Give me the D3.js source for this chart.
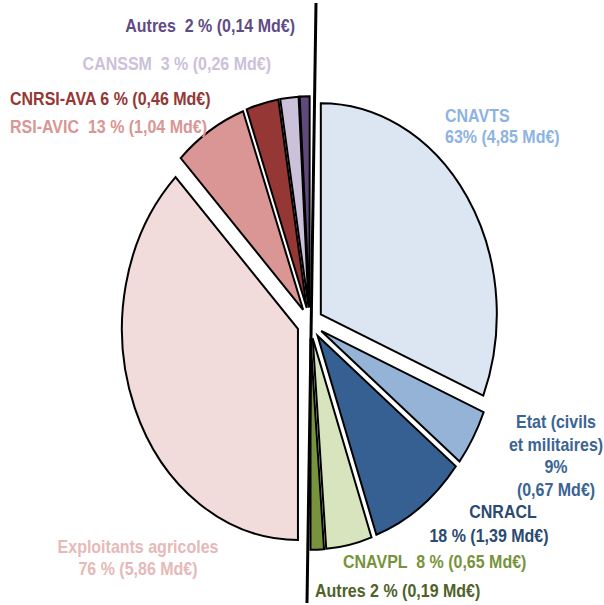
<!DOCTYPE html>
<html>
<head>
<meta charset="utf-8">
<script src="https://cdn.jsdelivr.net/npm/d3@7"></script>
<style>
  body { margin: 0; background: #fff; }
  svg { display: block; }
  text { font-family: "Liberation Sans", Arial, sans-serif; font-weight: bold; font-size: 16px; }
</style>
</head>
<body>
<svg id="chart" width="604" height="605"></svg>
<script>
// Right half: régimes de salariés etc. (Md€)
const rightNames = ["CNAVTS", "Etat (civils et militaires)", "CNRACL", "CNAVPL", "Autres"];
const rightValues = [4.85, 0.67, 1.39, 0.65, 0.19];
const rightColors = ["#dce6f2", "#95b3d7", "#376092", "#d7e4bd", "#77933c"];

// Left half: non-salariés agricoles (Md€)
const leftNames = ["Exploitants agricoles", "RSI-AVIC", "CNRSI-AVA", "CANSSM", "Autres"];
const leftValues = [5.86, 1.04, 0.46, 0.26, 0.14];
const leftColors = ["#f2dcdb", "#d99694", "#953735", "#ccc1da", "#604a7b"];

// Label texts
const labelLines = [
  ["Autres  2 % (0,14 Md€)"],
  ["CANSSM  3 % (0,26 Md€)"],
  ["CNRSI-AVA 6 % (0,46 Md€)"],
  ["RSI-AVIC  13 % (1,04 Md€)"],
  ["CNAVTS", "63% (4,85 Md€)"],
  ["Etat (civils", "et militaires)", "9%", "(0,67 Md€)"],
  ["CNRACL", "18 % (1,39 Md€)"],
  ["CNAVPL  8 % (0,65 Md€)"],
  ["Autres 2 % (0,19 Md€)"],
  ["Exploitants agricoles", "76 % (5,86 Md€)"]
];

const svg = d3.select('#chart');
const cx = 310, cy = 323;
const radius = 176;
const squash = 1.2;     // pie is drawn stretched vertically
const explode = 13;

const arc = d3.arc().innerRadius(0).outerRadius(radius);

function drawHalf(values, colors, start, end) {
    const pie = d3.pie().sort(null).value(d => d)
        .startAngle(start).endAngle(end);
    const g = svg.append('g')
        .attr('transform', `translate(${cx},${cy}) scale(1,${squash})`);
    g.selectAll('path')
        .data(pie(values))
        .join('path')
        .attr('transform', d => {
            const a = (d.startAngle + d.endAngle) / 2;
            return `translate(${explode * Math.sin(a)},${-explode * Math.cos(a)})`;
        })
        .attr('d', arc)
        .attr('fill', (d, i) => colors[i])
        .attr('stroke', '#000')
        .attr('stroke-width', 2)
        .attr('vector-effect', 'non-scaling-stroke')
        .attr('stroke-linejoin', 'miter');
}

drawHalf(rightValues, rightColors, 0, Math.PI);
drawHalf(leftValues, leftColors, Math.PI, 2 * Math.PI);

// separator line
svg.append('line')
    .attr('x1', 316).attr('y1', 3)
    .attr('x2', 307).attr('y2', 603)
    .attr('stroke', '#000')
    .attr('stroke-width', 3);

// label placement: x, first baseline, line step, anchor, colour
const labelLayout = [
    {x: 295, y: 32, step: 0, anchor: 'end', color: '#5f4b85'},
    {x: 271, y: 70, step: 0, anchor: 'end', color: '#ccc1da'},
    {x: 10, y: 105, step: 0, anchor: 'start', color: '#953735'},
    {x: 10, y: 133, step: 0, anchor: 'start', color: '#d99694'},
    {x: 445, y: 122, step: 21, anchor: 'start', color: '#8db3e2'},
    {x: 556, y: 428, step: 22.5, anchor: 'middle', color: '#3a6494'},
    {x: 496, y: 518, step: 24, anchor: 'middle', color: '#2b4a70'},
    {x: 343, y: 568, step: 0, anchor: 'start', color: '#77933c'},
    {x: 315, y: 597, step: 0, anchor: 'start', color: '#4f6228'},
    {x: 138, y: 553, step: 22, anchor: 'middle', color: '#e6b9b8'}
];

labelLines.forEach((lines, i) => {
    const L = labelLayout[i];
    lines.forEach((t, j) => {
        let x = L.x;
        if (i === 6) x = j === 0 ? 503 : 489;
        svg.append('text')
            .attr('transform', `translate(${x},${L.y + j * L.step}) scale(1,1.15)`)
            .attr('text-anchor', L.anchor)
            .attr('fill', L.color)
            .style('white-space', 'pre')
            .text(t);
    });
});
</script>
</body>
</html>
